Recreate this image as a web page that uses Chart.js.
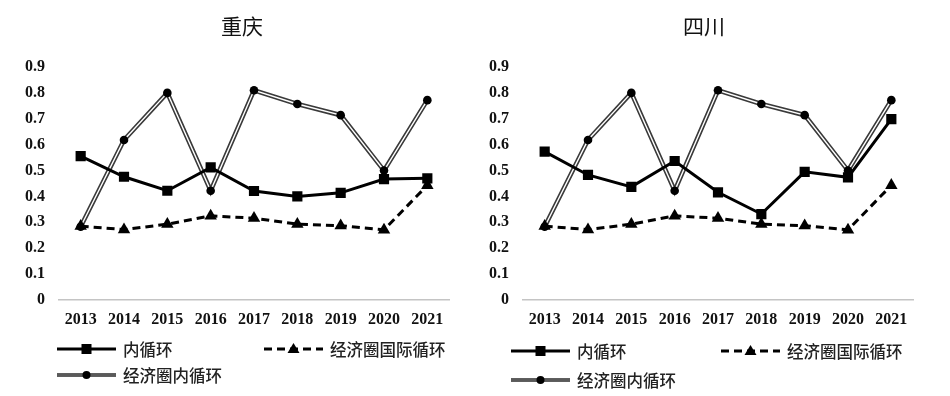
<!DOCTYPE html>
<html>
<head>
<meta charset="utf-8">
<script src="https://cdn.jsdelivr.net/npm/chart.js@4/dist/chart.umd.min.js"></script>
<style>
  html, body { margin: 0; padding: 0; background: #fff; }
  body { width: 950px; height: 396px; position: relative; overflow: hidden; }
  .wrap { position: absolute; top: 0; width: 475px; height: 396px; }
  .title { position: absolute; font-family: "Noto Sans CJK SC", sans-serif; font-size: 21px; color: #111; transform: translate(-50%, -50%); white-space: nowrap; }
  .lg { position: absolute; display: flex; align-items: center; font-family: "Noto Sans CJK SC", sans-serif; font-size: 16.5px; color: #222; font-weight: 500; white-space: nowrap; transform: translateY(-50%); }
  .lg svg { display: block; margin-right: 7px; }
</style>
</head>
<body>
<div class="wrap" style="left:0"><canvas id="c1" width="475" height="396"></canvas></div>
<div class="wrap" style="left:464px"><canvas id="c2" width="475" height="396"></canvas></div>
<div id="overlay"></div>
<script>
// ---- data ----
const years = ['2013','2014','2015','2016','2017','2018','2019','2020','2021'];
const yTicks = ['0','0.1','0.2','0.3','0.4','0.5','0.6','0.7','0.8','0.9'];
const seriesNames = ['内循环', '经济圈国际循环', '经济圈内循环'];
const titles = ['重庆', '四川'];

const cqInner  = [0.556, 0.476, 0.422, 0.512, 0.421, 0.400, 0.414, 0.467, 0.470];
const cqIntl   = [0.285, 0.272, 0.293, 0.325, 0.316, 0.293, 0.287, 0.271, 0.443];
const cqCircle = [0.283, 0.618, 0.800, 0.422, 0.810, 0.757, 0.714, 0.500, 0.772];

const scInner  = [0.573, 0.483, 0.437, 0.537, 0.416, 0.332, 0.495, 0.474, 0.699];
const scIntl   = [0.285, 0.272, 0.293, 0.325, 0.316, 0.293, 0.287, 0.271, 0.443];
const scCircle = [0.283, 0.618, 0.800, 0.422, 0.810, 0.757, 0.714, 0.500, 0.772];

// ---- chart builder ----
function makeChart(id, inner, intl, circle) {
  const ctx = document.getElementById(id);
  return new Chart(ctx, {
    type: 'line',
    data: {
      labels: years,
      datasets: [
        { label: seriesNames[0], data: inner, borderColor: '#000', backgroundColor: '#000', borderWidth: 3,
          pointStyle: 'rect', pointRadius: 7.2, pointBorderWidth: 0, tension: 0, order: 1 },
        { label: seriesNames[1], data: intl, borderColor: '#000', backgroundColor: '#000', borderWidth: 3,
          borderDash: [8, 5], pointStyle: 'triangle', pointRadius: 7.2, pointBorderWidth: 0, tension: 0, order: 2 },
        { label: seriesNames[2], data: circle, borderColor: '#ffffff', backgroundColor: '#000', borderWidth: 1.4,
          pointStyle: 'circle', pointRadius: 4.3, pointBorderWidth: 0, pointBorderColor: '#000', tension: 0, order: 3 },
        { label: seriesNames[2] + '_outer', data: circle, borderColor: '#3a3a3a', borderWidth: 4.6,
          pointRadius: 0, tension: 0, order: 4 }
      ]
    },
    options: {
      responsive: false,
      animation: false,
      events: [],
      layout: { padding: { left: 0, right: 26, top: 67, bottom: 66 } },
      plugins: { legend: { display: false }, tooltip: { enabled: false }, title: { display: false } },
      scales: {
        x: {
          offset: true,
          grid: { display: false, drawTicks: false },
          border: { display: true, color: '#c4c4c4', width: 1.5 },
          ticks: { color: '#111', padding: 10, maxRotation: 0,
            font: { family: '"Liberation Serif", serif', size: 16, weight: 'bold' } },
          afterFit: (s) => { s.height = 30; }
        },
        y: {
          min: 0, max: 0.9,
          grid: { display: false, drawTicks: false },
          border: { display: false },
          ticks: { stepSize: 0.1, color: '#111', padding: 14,
            font: { family: '"Liberation Serif", serif', size: 16, weight: 'bold' },
            callback: (v, i) => yTicks[i] },
          afterFit: (s) => { s.width = 59; }
        }
      }
    }
  });
}
makeChart('c1', cqInner, cqIntl, cqCircle);
makeChart('c2', scInner, scIntl, scCircle);

// ---- titles & legends (HTML) ----
const overlay = document.getElementById('overlay');
function addTitle(text, x, y) {
  const d = document.createElement('div');
  d.className = 'title'; d.textContent = text;
  d.style.left = x + 'px'; d.style.top = y + 'px';
  overlay.appendChild(d);
}
function sample(kind) {
  const w = 59, h = 14, m = h / 2;
  let s = `<svg width="${w}" height="${h}" viewBox="0 0 ${w} ${h}">`;
  if (kind === 0) {
    s += `<line x1="0" y1="${m}" x2="${w}" y2="${m}" stroke="#000" stroke-width="3"/>`;
    s += `<rect x="${w/2-5}" y="${m-5}" width="10" height="10" fill="#000"/>`;
  } else if (kind === 1) {
    s += `<line x1="0" y1="${m}" x2="${w}" y2="${m}" stroke="#000" stroke-width="3" stroke-dasharray="8 5"/>`;
    s += `<polygon points="${w/2},${m-6} ${w/2+6},${m+4} ${w/2-6},${m+4}" fill="#000"/>`;
  } else {
    s += `<line x1="0" y1="${m}" x2="${w}" y2="${m}" stroke="#2a2a2a" stroke-width="3.6"/>`;
    s += `<line x1="0" y1="${m}" x2="${w}" y2="${m}" stroke="#8a8a8a" stroke-width="1"/>`;
    s += `<circle cx="${w/2}" cy="${m}" r="4" fill="#000"/>`;
  }
  return s + '</svg>';
}
function addLegend(kind, x, y) {
  const d = document.createElement('div');
  d.className = 'lg';
  d.style.left = x + 'px'; d.style.top = y + 'px';
  d.innerHTML = sample(kind) + '<span>' + seriesNames[kind] + '</span>';
  overlay.appendChild(d);
}
addTitle(titles[0], 242, 25);
addTitle(titles[1], 704, 25);
addLegend(0, 57, 349);
addLegend(1, 264, 349);
addLegend(2, 57, 375);
addLegend(0, 511, 351);
addLegend(1, 721, 351);
addLegend(2, 511, 380);
</script>
</body>
</html>
